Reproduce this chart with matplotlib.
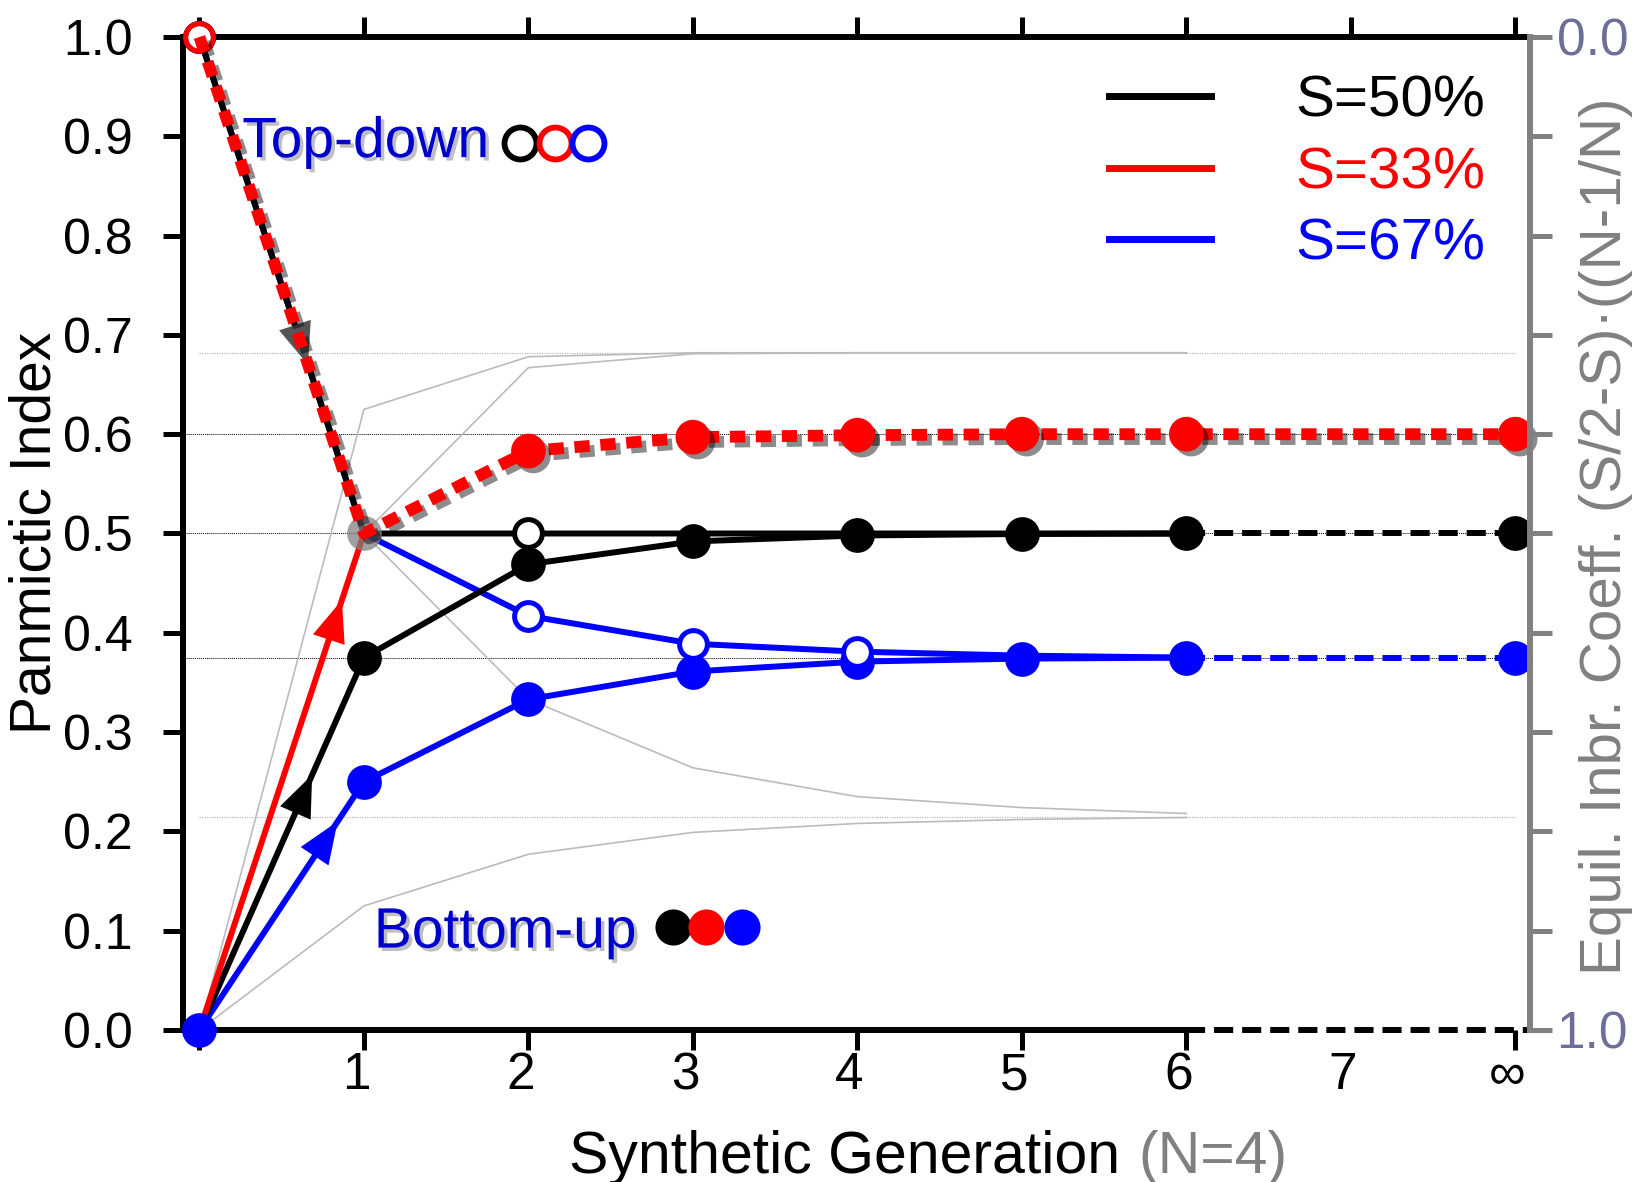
import numpy as np
import matplotlib
matplotlib.use('Agg')
import matplotlib.pyplot as plt
import matplotlib.patheffects as pe
from matplotlib.lines import Line2D
from matplotlib.transforms import ScaledTranslation

plt.rcParams['font.family'] = ['Liberation Sans', 'DejaVu Sans']

# Generaciones (8 = infinito)
gen = [0, 1, 2, 3, 4, 5, 6, 8]
etiquetas_x = ['', '1', '2', '3', '4', '5', '6', '7', '∞']

# Bottom-up (marcadores llenos)
bu_50 = [0.0, 0.375, 0.469, 0.492, 0.498, 0.4995, 0.5, 0.5]
bu_33 = [0.0, 0.5, 0.583, 0.597, 0.599, 0.6, 0.6, 0.6]
bu_67 = [0.0, 0.25, 0.333, 0.361, 0.371, 0.374, 0.375, 0.375]

# Top-down (marcadores vacios)
td_50 = [1.0, 0.5, 0.5, 0.5, 0.5, 0.5, 0.5, 0.5]
td_33 = [1.0, 0.5, 0.583, 0.597, 0.599, 0.6, 0.6, 0.6]
td_67 = [1.0, 0.5, 0.417, 0.389, 0.381, 0.377, 0.375, 0.375]

# Curvas grises finas (envolventes)
gris_x_a = [0, 1, 2, 3, 4, 5, 6]
gris_a = [0.0, 0.625, 0.678, 0.682, 0.682, 0.682, 0.682]
gris_x_b = [1, 2, 3, 4, 5, 6]
gris_b = [0.5, 0.667, 0.681, 0.682, 0.682, 0.682]
gris_x_c = [1, 2, 3, 4, 5, 6]
gris_c = [0.5, 0.333, 0.264, 0.235, 0.224, 0.218]
gris_x_d = [0, 1, 2, 3, 4, 5, 6]
gris_d = [0.0, 0.125, 0.177, 0.199, 0.208, 0.212, 0.214]

# Valores de equilibrio
equilibrio = [0.6, 0.5, 0.375]
equilibrio_gris = [0.682, 0.214]

# Flechas (punta, cola) sobre los tramos 0-1
flechas = [((0.866, 0.433), (0.80, 0.40), 'red'),
           ((0.685, 0.257), (0.62, 0.2325), 'black'),
           ((0.84, 0.21), (0.78, 0.195), 'blue'),
           ((0.66, 0.67), (0.58, 0.71), '#555555')]

series = ['S=50%', 'S=33%', 'S=67%']
colores = ['black', 'red', 'blue']

fig = plt.figure(figsize=(16.4, 11.82), dpi=100)
ax = fig.add_axes([0.1116, 0.1286, 0.933 - 0.1116, 0.9687 - 0.1286])

lw = 4.3
ms = 25
sombra_linea = [pe.SimpleLineShadow(offset=(3.5, -3.5), shadow_color='k', alpha=0.45), pe.Normal()]
sombra_patch = [pe.SimplePatchShadow(offset=(3.5, -3.5), shadow_rgbFace='k', alpha=0.45), pe.Normal()]

# lineas de referencia
for v in equilibrio:
    ax.plot([-0.1, 8.09], [v, v], color='k', lw=0.7, ls=(0, (1, 1)), zorder=1, clip_on=False)
for v in equilibrio_gris:
    ax.plot([0, 8], [v, v], color='#bbbbbb', lw=0.9, ls=(0, (1, 1)), zorder=1)

for gx, gy in [(gris_x_a, gris_a), (gris_x_b, gris_b), (gris_x_c, gris_c), (gris_x_d, gris_d)]:
    ax.plot(gx, gy, color='#bbbbbb', lw=1.2, zorder=1)

# azul
ax.plot(gen[:7], td_67[:7], color='blue', lw=lw, zorder=3)
ax.plot(gen[6:], td_67[6:], color='blue', lw=lw, dashes=(3.2, 1.5), zorder=3)
ax.plot(gen[:7], bu_67[:7], color='blue', lw=lw, zorder=3)
# negro
ax.plot(gen[:7], td_50[:7], color='k', lw=lw, zorder=3)
ax.plot(gen[6:], td_50[6:], color='k', lw=lw, dashes=(3.2, 1.5), zorder=3)
ax.plot(gen[:7], bu_50[:7], color='k', lw=lw, zorder=3)
# rojo
ax.plot(gen[:2], bu_33[:2], color='red', lw=lw, zorder=3)

# flechas
for punta, cola, c in flechas:
    ax.annotate('', xy=punta, xytext=cola,
                arrowprops=dict(arrowstyle='-|>,head_length=1.5,head_width=0.6',
                                color=c, lw=0, shrinkA=0, shrinkB=0, mutation_scale=20),
                zorder=4)

# punto comun gris
ax.plot(1, 0.5, 'o', color='gray', alpha=0.75, ms=ms, mew=0, zorder=4)

# marcadores llenos
ax.plot(gen[1:], bu_50[1:], 'o', color='k', ms=ms, mew=0, zorder=5, clip_on=False)
ax.plot([gen[0]] + gen[2:], [bu_67[0]] + bu_67[2:], 'o', color='blue', ms=ms, mew=0, zorder=5, clip_on=False)
ax.plot(gen[1], bu_67[1], 'o', color='blue', ms=ms, mew=0, zorder=5)
# marcadores vacios
ax.plot([gen[0], gen[2]], [td_50[0], td_50[2]], 'o', mfc='white', mec='k', ms=20, mew=3.6, zorder=5, clip_on=False)
ax.plot(gen[0], td_67[0], 'o', mfc='white', mec='blue', ms=20, mew=3.6, zorder=4, clip_on=False)
ax.plot(gen[2:5], td_67[2:5], 'o', mfc='white', mec='blue', ms=20, mew=3.6, zorder=5)
ax.plot(gen[0], td_33[0], 'o', mfc='none', mec='red', ms=20, mew=3.6, zorder=6, clip_on=False)

# linea roja punteada con sombra
ax.plot(gen, td_33, color='red', lw=8.5, dashes=(1.3, 0.9), solid_capstyle='butt',
        path_effects=sombra_linea, zorder=6, clip_on=False)
ax.plot(gen[2:], bu_33[2:], 'o', color='red', ms=ms, mew=0, zorder=7,
        path_effects=sombra_patch, clip_on=False)

# textos Top-down / Bottom-up
sombra_txt = [pe.withSimplePatchShadow(offset=(2.5, -2.5), shadow_rgbFace='gray', alpha=0.5)]
ax.text(0.26, 0.879, 'Top-down', color='#0000cc', fontsize=41, va='baseline', ha='left',
        path_effects=sombra_txt, zorder=8)
for xx, c in zip([1.95, 2.16, 2.36], colores):
    ax.plot(xx, 0.893, 'o', mfc='white', mec=c, ms=23, mew=4.2, zorder=8)
ax.text(1.06, 0.083, 'Bottom-up', color='#0000cc', fontsize=41, va='baseline', ha='left',
        path_effects=sombra_txt, zorder=8)
for xx, c in zip([2.88, 3.08, 3.30], colores):
    ax.plot(xx, 0.104, 'o', color=c, ms=26, mew=0, zorder=8)

# leyenda
manijas = [Line2D([], [], color=c, lw=5) for c in colores]
ax.legend(manijas, series, loc='upper right', bbox_to_anchor=(0.967, 0.962),
          frameon=False, fontsize=42, handlelength=1.75, handletextpad=1.45,
          labelspacing=0.30, labelcolor=colores, borderpad=0, borderaxespad=0)

# ejes
ax.set_xlim(-0.1, 8.09)
ax.set_ylim(0, 1)
ax.set_xticks(range(9))
ax.set_xticklabels(etiquetas_x)
ax.set_yticks(np.arange(0, 1.01, 0.1))
ax.set_yticklabels(['%.1f' % v for v in np.arange(0, 1.01, 0.1)])
ax.tick_params(axis='x', direction='out', length=14.4, width=3.6, top=True, labelsize=37, pad=1)
ax.tick_params(axis='y', direction='out', length=14.4, width=3.6, labelsize=36, pad=22)
for s in ['left', 'top', 'bottom']:
    ax.spines[s].set_linewidth(4.3)
ax.spines['right'].set_visible(False)
ax.spines['bottom'].set_bounds(-0.1, 6)
ax.xaxis.get_major_ticks()[7].tick1line.set_visible(False)
desplaza = ScaledTranslation(-8 / 100, 0, fig.dpi_scale_trans)
for lab in ax.get_xticklabels():
    lab.set_transform(lab.get_transform() + desplaza)
# tramo discontinuo del eje inferior
ax.plot([6, 8.09], [0, 0], color='k', lw=4.3, dashes=(3.2, 1.5), clip_on=False, zorder=2)

# eje derecho
ax2 = ax.twinx()
ax2.set_ylim(1, 0)
ax2.set_yticks(np.arange(0, 1.01, 0.1))
ax2.set_yticklabels(['0.0'] + [''] * 9 + ['1.0'])
ax2.tick_params(axis='y', direction='out', length=16, width=3.6, color='gray',
                labelcolor='#6e6e9a', labelsize=37, pad=3)
for s in ['left', 'top', 'bottom']:
    ax2.spines[s].set_visible(False)
ax2.spines['right'].set_color('gray')
ax2.spines['right'].set_linewidth(4.3)

# titulos de ejes
fig.text(0.0215, 0.549, 'Panmictic Index', rotation=90, fontsize=41, ha='center', va='center')
fig.text(0.979, 0.5465, 'Equil. Inbr. Coeff. (S/2-S)·((N-1/N)', rotation=90, fontsize=42,
         color='gray', ha='center', va='center')
fig.text(0.683, 0.008, 'Synthetic Generation', fontsize=42.5, ha='right', va='baseline')
fig.text(0.694, 0.008, '(N=4)', fontsize=42.5, color='gray', ha='left', va='baseline')

fig.savefig('out.png', dpi=100)
